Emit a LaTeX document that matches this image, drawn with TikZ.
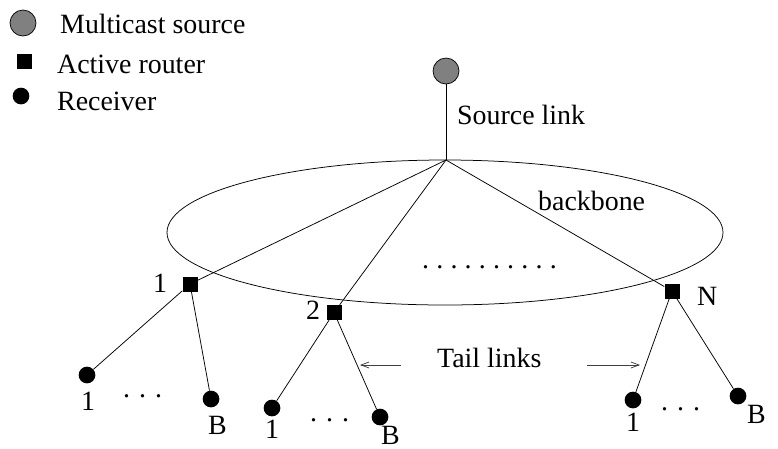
\documentclass[tikz,border=0pt]{standalone}
\usepackage{fontspec}
\setmainfont{Liberation Serif}
\usetikzlibrary{arrows.meta}
\begin{document}
\begin{tikzpicture}[x=1pt,y=-1pt,
 lbl/.style={inner sep=0pt,font=\fontsize{27.9}{30}\selectfont,anchor=base west,text=black},
 longdots/.style={lbl,execute at begin node={\frenchspacing\spaceskip=7.2pt\relax}},
 shortdots/.style={lbl,execute at begin node={\frenchspacing\spaceskip=9pt\relax}},
 src/.style={circle,draw=black,fill=black!50!white,line width=.7pt,minimum size=26pt,inner sep=0pt},
 rtr/.style={rectangle,fill=black,minimum size=15pt,inner sep=0pt},
 rcv/.style={circle,fill=black,minimum size=16.7pt,inner sep=0pt},
 lnk/.style={draw=black,line width=.75pt},
 arr/.style={draw=black!75,line width=.75pt,-{Straight Barb[length=8pt,width=6pt]}}]
\useasboundingbox (0,0) rectangle (778,448);
\draw[lnk] (445,232.5) ellipse [x radius=278,y radius=72.5];
\node[src] (ls) at (23,23) {};
\node[rtr] (lr) at (24.5,61) {};
\node[rcv] (lc) at (21,96) {};
\node[lbl] at (60,33) {Multicast source};
\node[lbl] at (57,73) {Active router};
\node[lbl] at (57,110) {Receiver};
\node[src] (s) at (446,71) {};
\coordinate (h) at (446,160);
\node[rtr] (r1) at (190,284) {};
\node[rtr] (r2) at (334,312.5) {};
\node[rtr] (rn) at (672,291) {};
\node[rcv] (a1) at (87,375) {};
\node[rcv] (a2) at (211,399) {};
\node[rcv] (b1) at (272,408) {};
\node[rcv] (b2) at (380,417) {};
\node[rcv] (c1) at (633,400) {};
\node[rcv] (c2) at (738,396) {};
\draw[lnk] (s)--(h);
\draw[lnk] (h)--(r1);
\draw[lnk] (h)--(r2);
\draw[lnk] (h)--(rn);
\draw[lnk] (r1)--(a1);
\draw[lnk] (r1)--(a2);
\draw[lnk] (r2)--(b1);
\draw[lnk] (r2)--(b2);
\draw[lnk] (rn)--(c1);
\draw[lnk] (rn)--(c2);
\node[lbl] at (457,124) {Source link};
\node[lbl] at (538,210) {backbone};
\node[longdots] at (422,268) {. . . . . . . . . .};
\node[lbl] at (153,292) {1};
\node[lbl] at (306,319) {2};
\node[lbl] at (697,305) {N};
\node[lbl] (tl) at (437,367) {Tail links};
\coordinate (tla) at (401,365);
\coordinate (tlb) at (360,365);
\coordinate (tra) at (587,365);
\coordinate (trb) at (640,365);
\draw[arr] (tla)--(tlb);
\draw[arr] (tra)--(trb);
\node[lbl] at (81,410) {1};
\node[shortdots] at (123,397) {. . .};
\node[lbl] at (208,434) {B};
\node[lbl] at (265,438) {1};
\node[shortdots] at (310,421) {. . .};
\node[lbl] at (381,444) {B};
\node[lbl] at (626,431) {1};
\node[shortdots] at (661,410) {. . .};
\node[lbl] at (747,423) {B};
\end{tikzpicture}
\end{document}
